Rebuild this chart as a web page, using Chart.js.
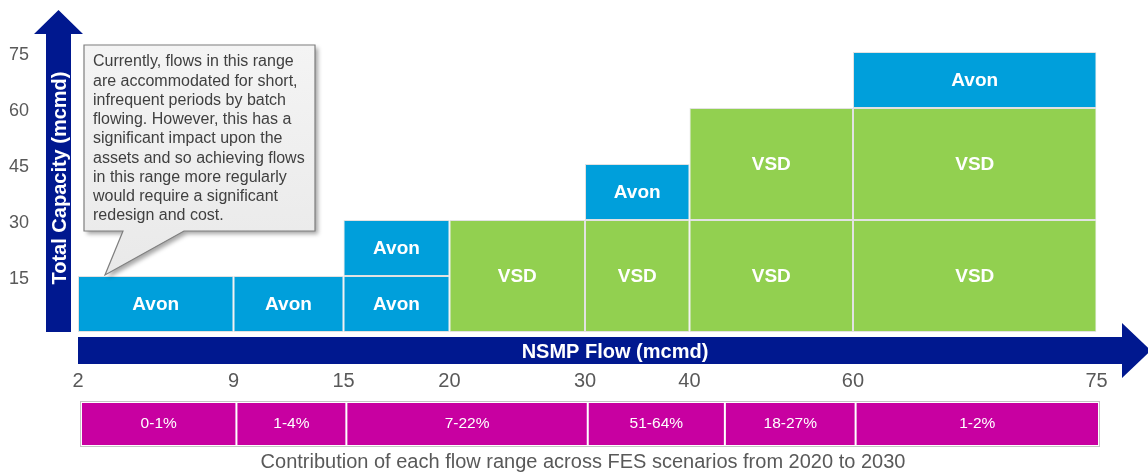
<!DOCTYPE html>
<html><head><meta charset="utf-8">
<script src="https://cdn.jsdelivr.net/npm/chart.js@4.4.1/dist/chart.umd.min.js"></script>
<style>
html,body{margin:0;padding:0;background:#fff;}
#wrap{position:relative;width:1148px;height:472px;overflow:hidden;}
#main{position:absolute;left:0;top:0;}
#contrib{position:absolute;left:0;top:398px;}
</style></head><body>
<div id="wrap"><canvas id="main" width="1148" height="472"></canvas><canvas id="contrib" width="1148" height="74"></canvas></div>
<script>
// ---- data ----
const xTicks = [2, 9, 15, 20, 30, 40, 60, 75];
const yTicks = [15, 30, 45, 60, 75];
const blockLabels = ['Avon','Avon','Avon','Avon','VSD','VSD','Avon','VSD','VSD','VSD','VSD','Avon'];
const blockFrom   = [2, 9, 15, 15, 20, 30, 30, 40, 40, 60, 60, 60];
const blockTo     = [9, 15, 20, 20, 30, 40, 40, 60, 60, 75, 75, 75];
const blockBottom = [0, 0, 0, 15, 0, 0, 30, 0, 30, 0, 30, 60];
const blockTop    = [15, 15, 15, 30, 30, 30, 45, 30, 60, 30, 60, 75];
const contribLabels = ['0-1%','1-4%','7-22%','51-64%','18-27%','1-2%'];
const contribFrom = [2, 9, 15, 30, 44, 60];
const contribTo   = [9, 15, 30, 44, 60, 75];
const yTitle = 'Total Capacity (mcmd)';
const xTitle = 'NSMP Flow (mcmd)';
const caption = 'Contribution of each flow range across FES scenarios from 2020 to 2030';
const calloutLines = [
  'Currently, flows in this range',
  'are accommodated for short,',
  'infrequent periods by batch',
  'flowing. However, this has a',
  'significant impact upon the',
  'assets and so achieving flows',
  'in this range more regularly',
  'would require a significant',
  'redesign and cost.'
];

// ---- styles ----
const NAVY = '#00188F', BLUE = '#009FDB', GREEN = '#92D050', PINK = '#C800A1';
const FONT = 'Arial, "Liberation Sans", sans-serif';
// non-linear axis: share of axis length given to each interval between xTicks
const X_FRACTIONS = [0, 0.15268, 0.26068, 0.36475, 0.49779, 0.60039, 0.76092, 1];

class PiecewiseScale extends Chart.LinearScale {
  getPixelForValue(value) {
    const b = xTicks, f = X_FRACTIONS;
    let i = 0;
    while (i < b.length - 2 && value > b[i + 1]) i++;
    const t = f[i] + (value - b[i]) / (b[i + 1] - b[i]) * (f[i + 1] - f[i]);
    return this.getPixelForDecimal(t);
  }
  getValueForPixel(pixel) {
    const d = this.getDecimalForPixel(pixel), b = xTicks, f = X_FRACTIONS;
    let i = 0;
    while (i < f.length - 2 && d > f[i + 1]) i++;
    return b[i] + (d - f[i]) / (f[i + 1] - f[i]) * (b[i + 1] - b[i]);
  }
}
PiecewiseScale.id = 'piecewise';
PiecewiseScale.defaults = Chart.LinearScale.defaults;
Chart.register(PiecewiseScale);

class SpanBarController extends Chart.BarController {
  _calculateBarIndexPixels(index, ruler) {
    const scale = ruler.scale;
    const raw = this.getDataset().data[index];
    const a = scale.getPixelForValue(raw.x0);
    const b = scale.getPixelForValue(raw.x1);
    return { base: Math.min(a, b), head: Math.max(a, b), center: (a + b) / 2, size: Math.abs(b - a) };
  }
}
SpanBarController.id = 'spanbar';
SpanBarController.defaults = Chart.BarController.defaults;
SpanBarController.overrides = Chart.BarController.overrides;
Chart.register(SpanBarController);

const blockData = blockFrom.map((f, i) => ({ x: f, y: [blockBottom[i], blockTop[i]], x0: f, x1: blockTo[i] }));

const mainDecor = {
  id: 'mainDecor',
  afterDatasetsDraw(chart) {
    const ctx = chart.ctx;
    const meta = chart.getDatasetMeta(0);
    ctx.save();
    ctx.fillStyle = '#fff';
    ctx.font = 'bold 19px ' + FONT;
    ctx.textAlign = 'center';
    ctx.textBaseline = 'middle';
    meta.data.forEach((el, i) => {
      const p = el.getProps(['x', 'y', 'base']);
      ctx.fillText(blockLabels[i], p.x, (p.y + p.base) / 2 + 1);
    });
    ctx.restore();
  },
  afterDraw(chart) {
    const ctx = chart.ctx, a = chart.chartArea;
    ctx.save();
    // vertical arrow
    ctx.fillStyle = NAVY;
    ctx.beginPath();
    ctx.moveTo(46, a.bottom); ctx.lineTo(46, 34); ctx.lineTo(34, 34); ctx.lineTo(58.5, 10);
    ctx.lineTo(83, 34); ctx.lineTo(71, 34); ctx.lineTo(71, a.bottom); ctx.closePath(); ctx.fill();
    // horizontal arrow
    ctx.beginPath();
    ctx.moveTo(a.left, 337); ctx.lineTo(1122, 337); ctx.lineTo(1122, 323); ctx.lineTo(1151, 350.5);
    ctx.lineTo(1122, 378); ctx.lineTo(1122, 364); ctx.lineTo(a.left, 364); ctx.closePath(); ctx.fill();
    ctx.fillStyle = '#fff';
    ctx.font = 'bold 20px ' + FONT;
    ctx.textAlign = 'center'; ctx.textBaseline = 'middle';
    ctx.fillText(xTitle, 615, 352);
    ctx.save();
    ctx.translate(59, 178); ctx.rotate(-Math.PI / 2);
    ctx.fillText(yTitle, 0, 1);
    ctx.restore();
    // callout
    ctx.beginPath();
    ctx.moveTo(84, 45); ctx.lineTo(315, 45); ctx.lineTo(315, 231); ctx.lineTo(184, 231);
    ctx.lineTo(105, 275); ctx.lineTo(123, 231); ctx.lineTo(84, 231); ctx.closePath();
    ctx.save();
    ctx.shadowColor = 'rgba(0,0,0,0.35)'; ctx.shadowBlur = 4; ctx.shadowOffsetX = 3; ctx.shadowOffsetY = 3;
    const g = ctx.createLinearGradient(0, 45, 0, 275);
    g.addColorStop(0, '#f4f4f4'); g.addColorStop(1, '#e9e9e9');
    ctx.fillStyle = g; ctx.fill();
    ctx.restore();
    ctx.strokeStyle = '#7f7f7f'; ctx.lineWidth = 1.2; ctx.stroke();
    ctx.fillStyle = '#404040';
    ctx.font = '16px ' + FONT;
    ctx.textAlign = 'left'; ctx.textBaseline = 'middle';
    calloutLines.forEach((t, i) => ctx.fillText(t, 93, 62 + i * 19.25));
    ctx.restore();
  }
};

new Chart(document.getElementById('main'), {
  type: 'spanbar',
  data: {
    datasets: [{
      data: blockData,
      backgroundColor: blockLabels.map(l => l === 'Avon' ? BLUE : GREEN),
      borderColor: '#e2e2e2',
      borderWidth: 1,
      borderSkipped: false
    }]
  },
  options: {
    responsive: false, animation: false, events: [],
    layout: { padding: { left: 9, top: 52, right: 51.5, bottom: 0 } },
    plugins: { legend: { display: false }, tooltip: { enabled: false } },
    scales: {
      x: {
        type: 'piecewise', min: 2, max: 75, offset: false,
        grid: { display: false, drawTicks: false }, border: { display: false },
        afterBuildTicks: s => { s.ticks = xTicks.map(v => ({ value: v })); },
        afterFit: s => { s.height = 140; },
        ticks: { font: { family: FONT, size: 20 }, color: '#595959', padding: 37, maxRotation: 0, autoSkip: false,
                 callback: v => String(v) }
      },
      y: {
        type: 'linear', min: 0, max: 75,
        grid: { display: false, drawTicks: false }, border: { display: false },
        afterBuildTicks: s => { s.ticks = yTicks.map(v => ({ value: v })); },
        afterFit: s => { s.width = 69; },
        ticks: { font: { family: FONT, size: 18 }, color: '#595959', padding: 0, crossAlign: 'far',
                 labelOffset: 3, callback: v => String(v) }
      }
    }
  },
  plugins: [mainDecor]
});

const contribDecor = {
  id: 'contribDecor',
  afterDatasetsDraw(chart) {
    const ctx = chart.ctx, a = chart.chartArea;
    const meta = chart.getDatasetMeta(0);
    ctx.save();
    ctx.strokeStyle = '#c4c4c4'; ctx.lineWidth = 1;
    ctx.strokeRect(a.left - 0.5, a.top - 0.5, a.right - a.left + 1, a.bottom - a.top + 1);
    ctx.fillStyle = '#fff';
    ctx.font = '15.5px ' + FONT;
    ctx.textAlign = 'center'; ctx.textBaseline = 'middle';
    meta.data.forEach((el, i) => {
      const p = el.getProps(['x', 'y', 'base']);
      ctx.fillText(contribLabels[i], p.x, (p.y + p.base) / 2);
    });
    ctx.fillStyle = '#595959';
    ctx.font = '20px ' + FONT;
    ctx.fillText(caption, 583, 64);
    ctx.restore();
  }
};

new Chart(document.getElementById('contrib'), {
  type: 'spanbar',
  data: {
    datasets: [{
      data: contribFrom.map((f, i) => ({ x: f, y: [0, 1], x0: f, x1: contribTo[i] })),
      backgroundColor: PINK,
      borderColor: '#ffffff',
      borderWidth: 1,
      borderSkipped: false
    }]
  },
  options: {
    responsive: false, animation: false, events: [],
    layout: { padding: { left: 81, top: 4, right: 49, bottom: 26 } },
    plugins: { legend: { display: false }, tooltip: { enabled: false } },
    scales: {
      x: { type: 'piecewise', min: 2, max: 75, offset: false, display: false },
      y: { type: 'linear', min: 0, max: 1, display: false }
    }
  },
  plugins: [contribDecor]
});
</script>
</body></html>
